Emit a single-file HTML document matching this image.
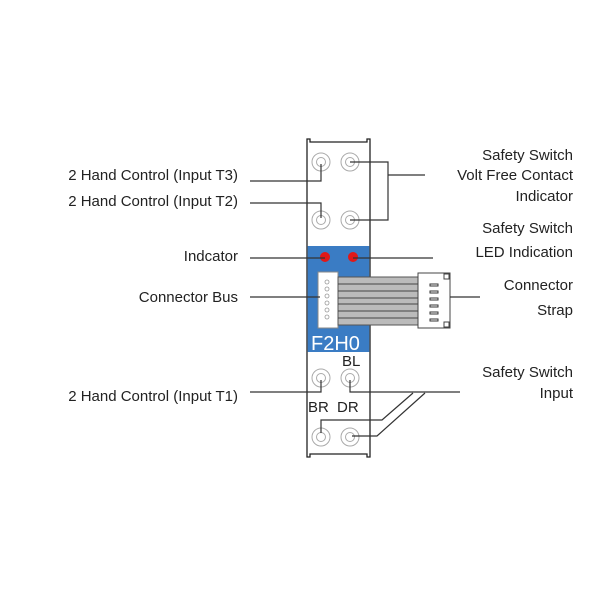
<!DOCTYPE html>
<html><head><meta charset="utf-8"><style>
body{margin:0;background:#fff}
svg{display:block}
text{font-family:"Liberation Sans",Arial,sans-serif;font-size:15px;fill:#222}
</style></head><body>
<svg width="600" height="600" viewBox="0 0 600 600">
<!-- module body -->
<path d="M310,139 H307 V457 H310 V454 H367 V457 H370 V139 H367 V142 H310 Z" fill="#fff" stroke="#222" stroke-width="1.3"/>
<rect x="307.7" y="246" width="61.6" height="106" fill="#3a7cc4"/>
<text x="311" y="350" style="font-size:20px;fill:#fff">F2H0</text>
<!-- circles -->
<g fill="none" stroke="#aaa" stroke-width="1">
<circle cx="321" cy="162" r="9"/><circle cx="321" cy="162" r="4.5"/>
<circle cx="350" cy="162" r="9"/><circle cx="350" cy="162" r="4.5"/>
<circle cx="321" cy="220" r="9"/><circle cx="321" cy="220" r="4.5"/>
<circle cx="350" cy="220" r="9"/><circle cx="350" cy="220" r="4.5"/>
<circle cx="321" cy="378" r="9"/><circle cx="321" cy="378" r="4.5"/>
<circle cx="350" cy="378" r="9"/><circle cx="350" cy="378" r="4.5"/>
<circle cx="321" cy="437" r="9"/><circle cx="321" cy="437" r="4.5"/>
<circle cx="350" cy="437" r="9"/><circle cx="350" cy="437" r="4.5"/>
</g>
<circle cx="325" cy="257" r="5" fill="#e01818"/>
<circle cx="353" cy="257" r="5" fill="#e01818"/>
<!-- connector bus -->
<path d="M318,272 H338 V328 H318 Z" fill="#fff" stroke="#888"/>
<g fill="none" stroke="#999" stroke-width="0.8">
<circle cx="327" cy="282" r="2"/><circle cx="327" cy="289" r="2"/><circle cx="327" cy="296" r="2"/><circle cx="327" cy="303" r="2"/><circle cx="327" cy="310" r="2"/><circle cx="327" cy="317" r="2"/>
</g>
<!-- ribbon -->
<rect x="338" y="277" width="80" height="48" fill="#bbb" stroke="#555"/>
<g stroke="#444" stroke-width="1">
<line x1="338" y1="284" x2="418" y2="284"/><line x1="338" y1="291" x2="418" y2="291"/><line x1="338" y1="298" x2="418" y2="298"/><line x1="338" y1="304" x2="418" y2="304"/><line x1="338" y1="311" x2="418" y2="311"/><line x1="338" y1="318" x2="418" y2="318"/>
</g>
<rect x="418" y="273" width="32" height="55" fill="#fff" stroke="#444"/>
<rect x="444" y="274" width="5" height="5" fill="none" stroke="#444"/>
<rect x="444" y="322" width="5" height="5" fill="none" stroke="#444"/>
<g fill="none" stroke="#333" stroke-width="1"><rect x="430" y="284" width="8" height="2"/><rect x="430" y="291" width="8" height="2"/><rect x="430" y="298" width="8" height="2"/><rect x="430" y="305" width="8" height="2"/><rect x="430" y="312" width="8" height="2"/><rect x="430" y="319" width="8" height="2"/></g>
<!-- labels on module -->
<text x="342" y="366">BL</text>
<text x="308" y="412">BR</text>
<text x="337" y="412">DR</text>
<!-- leader lines -->
<g fill="none" stroke="#333" stroke-width="1.2">
<path d="M250,181 H321 V164"/>
<path d="M250,203 H321 V218"/>
<path d="M350,162 H388 V220 H350"/>
<path d="M388,175 H425"/>
<path d="M250,258 H325"/>
<path d="M353,258 H433"/>
<path d="M250,297 H320"/>
<path d="M450,297 H480"/>
<path d="M250,392 H321 V380"/>
<path d="M350,380 V392 H460"/>
<path d="M413,393 L382,420 H321 V433"/>
<path d="M425,393 L377,436 H352"/>
</g>
<g text-anchor="end">
<text x="238" y="180">2 Hand Control (Input T3)</text>
<text x="238" y="206">2 Hand Control (Input T2)</text>
<text x="238" y="261">Indcator</text>
<text x="238" y="302">Connector Bus</text>
<text x="238" y="401">2 Hand Control (Input T1)</text>
</g>
<g text-anchor="end">
<text x="573" y="160">Safety Switch</text>
<text x="573" y="180">Volt Free Contact</text>
<text x="573" y="201">Indicator</text>
<text x="573" y="233">Safety Switch</text>
<text x="573" y="257">LED Indication</text>
<text x="573" y="290">Connector</text>
<text x="573" y="315">Strap</text>
<text x="573" y="377">Safety Switch</text>
<text x="573" y="398">Input</text>
</g>
</svg>
</body></html>
